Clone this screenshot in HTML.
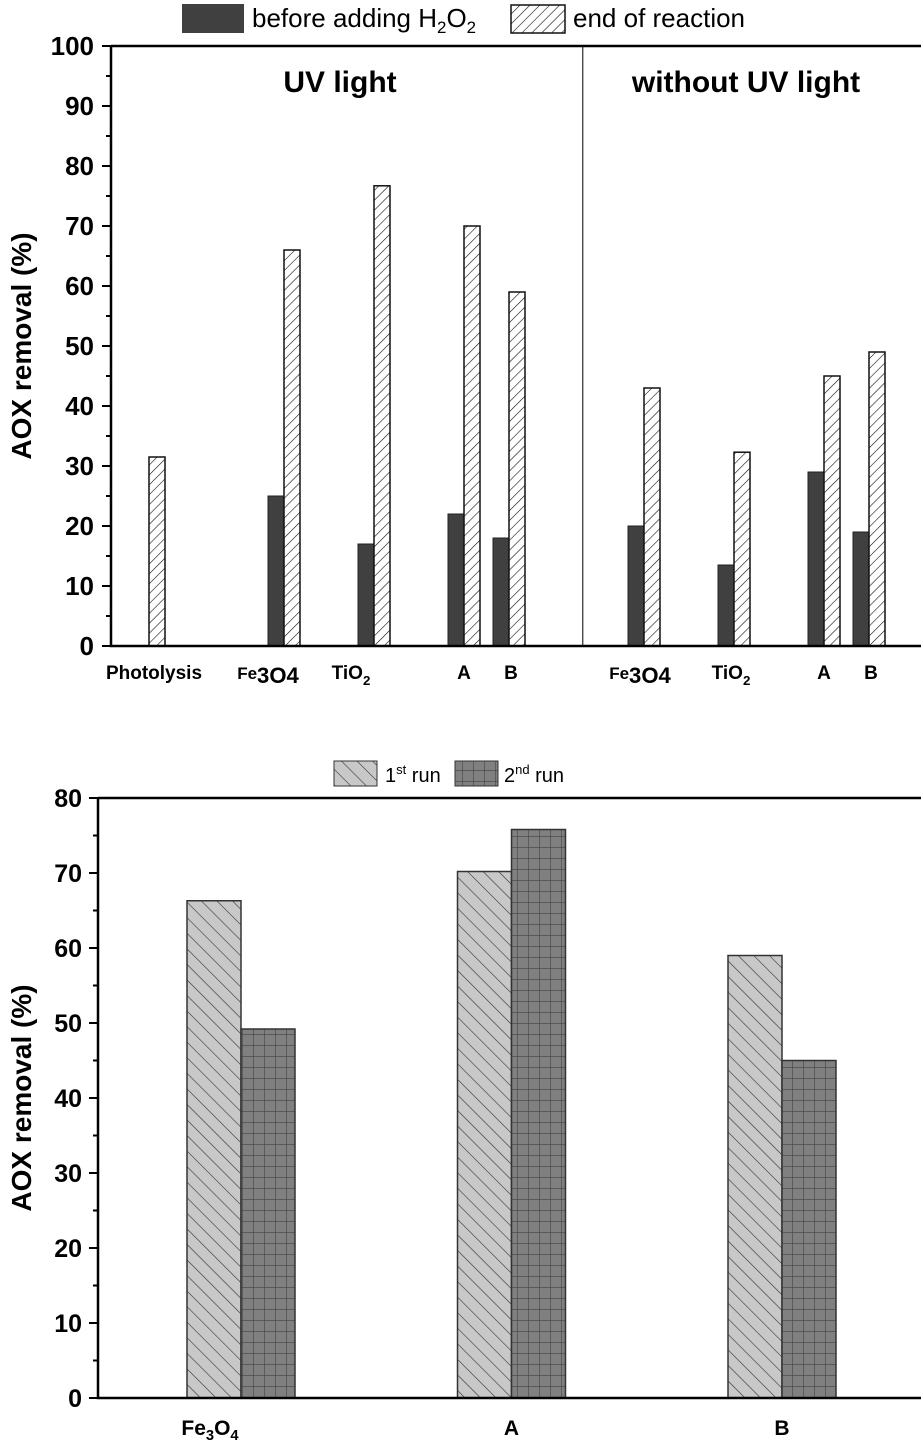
<!DOCTYPE html>
<html><head><meta charset="utf-8"><style>
body{margin:0;background:#fff}
svg{display:block;font-family:"Liberation Sans",Arial,sans-serif}
</style></head><body>
<svg width="922" height="1445" viewBox="0 0 922 1445">
<defs>
<pattern id="hatchA" patternUnits="userSpaceOnUse" width="7" height="7" patternTransform="rotate(45)">
<rect width="7" height="7" fill="#fff"/><line x1="0" y1="0" x2="0" y2="7" stroke="#111" stroke-width="1.2"/></pattern>
<pattern id="hatchB" patternUnits="userSpaceOnUse" width="11" height="11" patternTransform="rotate(-45)">
<rect width="11" height="11" fill="#c8c8c8"/><line x1="0" y1="0" x2="0" y2="11" stroke="#333" stroke-width="1.2"/></pattern>
<pattern id="gridC" patternUnits="userSpaceOnUse" width="11" height="11">
<rect width="11" height="11" fill="#808080"/><path d="M0 0H11M0 0V11" stroke="#444" stroke-width="1.2" fill="none"/></pattern>
</defs>
<g id="top"></g>
<g id="bot"></g>
</svg>
<script>
// ---- top chart data
const topSlots = [0,3,5,7,8,11,13,15,16];
const topLabels = ["Photolysis","Fe3O4","TiO2","A","B","Fe3O4","TiO2","A","B"];
const beforeVals = [null,25,17,22,18,20,13.5,29,19];
const endVals = [31.5,66,76.7,70,59,43,32.3,45,49];
const topTicks = [0,10,20,30,40,50,60,70,80,90,100];
// ---- bottom chart data
const botCats = ["Fe3O4","A","B"];
const run1 = [66.3,70.2,59];
const run2 = [49.2,75.8,45];
const botTicks = [0,10,20,30,40,50,60,70,80];

const NS="http://www.w3.org/2000/svg";
function mk(parent,tag,attrs,text){const e=document.createElementNS(NS,tag);for(const k in attrs)e.setAttribute(k,attrs[k]);if(text!==undefined)e.textContent=text;parent.appendChild(e);return e;}
function chem(t,label){
  if(label==="Fe3O4"){t.innerHTML='Fe<tspan font-size="1.3em" dy="4">3</tspan><tspan font-size="1.3em">O</tspan><tspan font-size="1.3em">4</tspan>';}
  else if(label==="TiO2"){t.innerHTML='TiO<tspan font-size="0.7em" dy="6">2</tspan>';}
  else t.textContent=label;
}
const labelShift = {Photolysis:5, Fe3O4:-16, TiO2:-23, A:0, B:2};

// ===== TOP =====
const T=document.getElementById('top');
const tL=111,tR=921,tT=46,tB=646;
const ty=v=>tB-(v/100)*(tB-tT);
const tx=s=>149+45*s;
const bw=16;
topSlots.forEach((s,i)=>{
  if(beforeVals[i]!==null){
    const r=mk(T,'rect',{x:tx(s)-bw,y:ty(beforeVals[i]),width:bw,height:tB-ty(beforeVals[i]),fill:'#404040',stroke:'#222','stroke-width':1});
    
    
  }
  const h=mk(T,'rect',{x:tx(s),y:ty(endVals[i]),width:bw,height:tB-ty(endVals[i]),fill:'url(#hatchA)',stroke:'#111','stroke-width':1.5});
  
  
  let cx=tx(s)+labelShift[topLabels[i]];
  if(topLabels[i]==="TiO2") cx=tx(s)-23+(i===6?20:0);
  if(topLabels[i]==="Fe3O4") cx=tx(s)-16+(i===5?12:0);
  const lbl=mk(T,'text',{x:cx,y:679,'text-anchor':'middle','font-size':topLabels[i]==="Fe3O4"?17:19,'font-weight':'bold'});
  chem(lbl,topLabels[i]);
  
  
});
mk(T,'path',{d:`M${tL} ${tT}H${tR}M${tL} ${tT}V${tB}H${tR}`,stroke:'#000','stroke-width':2.5,fill:'none',});
mk(T,'line',{x1:tx(9.64),x2:tx(9.64),y1:tT,y2:tB,stroke:'#000','stroke-width':1,});
topTicks.forEach(v=>{
  mk(T,'line',{x1:tL-9,x2:tL,y1:ty(v),y2:ty(v),stroke:'#000','stroke-width':2});
  if(v<100)mk(T,'line',{x1:tL-5,x2:tL,y1:ty(v+5),y2:ty(v+5),stroke:'#000','stroke-width':2});
  const t=mk(T,'text',{x:tL-17,y:ty(v)+9,'text-anchor':'end','font-size':26,'font-weight':'bold'},String(v));
  
  
});
mk(T,'text',{x:340,y:92,'text-anchor':'middle','font-size':30,'font-weight':'bold',},'UV light');
mk(T,'text',{x:746,y:92,'text-anchor':'middle','font-size':30,'font-weight':'bold',},'without UV light');
mk(T,'text',{transform:'translate(31 346) rotate(-90)','text-anchor':'middle','font-size':28,'font-weight':'bold',},'AOX removal (%)');
mk(T,'rect',{x:182,y:4,width:62,height:29,fill:'#404040',});
mk(T,'text',{x:252,y:27,'font-size':26,}).innerHTML='before adding H<tspan font-size="0.65em" dy="6">2</tspan><tspan dy="-6">O</tspan><tspan font-size="0.65em" dy="6">2</tspan>';
mk(T,'rect',{x:511,y:5,width:54,height:28,fill:'url(#hatchA)',stroke:'#111','stroke-width':1.5,});
mk(T,'text',{x:573,y:27,'font-size':26,},'end of reaction');

// ===== BOTTOM =====
const B=document.getElementById('bot');
const bL=98,bR=921,bT=798,bBt=1398;
const by=v=>bBt-(v/80)*(bBt-bT);
const bx=i=>241+270.5*i;
const bw2=54;
botCats.forEach((c,i)=>{
  const a=mk(B,'rect',{x:bx(i)-bw2,y:by(run1[i]),width:bw2,height:bBt-by(run1[i]),fill:'url(#hatchB)',stroke:'#333','stroke-width':1.5});
  
  
  const b=mk(B,'rect',{x:bx(i),y:by(run2[i]),width:bw2,height:bBt-by(run2[i]),fill:'url(#gridC)',stroke:'#333','stroke-width':1.5});
  
  
  const t=mk(B,'text',{x:bx(i)-(i===0?31:0),y:1435,'text-anchor':'middle','font-size':21,'font-weight':'bold'});
  if(c==="Fe3O4")t.innerHTML='Fe<tspan font-size="0.7em" dy="5">3</tspan><tspan dy="-5">O</tspan><tspan font-size="0.7em" dy="5">4</tspan>';else t.textContent=c;
  
  
});
mk(B,'path',{d:`M${bL} ${bT}H${bR}M${bL} ${bT}V${bBt}H${bR}`,stroke:'#000','stroke-width':2.5,fill:'none',});
botTicks.forEach(v=>{
  mk(B,'line',{x1:bL-9,x2:bL,y1:by(v),y2:by(v),stroke:'#000','stroke-width':2});
  if(v<80)mk(B,'line',{x1:bL-5,x2:bL,y1:by(v+5),y2:by(v+5),stroke:'#000','stroke-width':2});
  const t=mk(B,'text',{x:bL-16,y:by(v)+9,'text-anchor':'end','font-size':25,'font-weight':'bold'},String(v));
  
  
});
mk(B,'text',{transform:'translate(31 1098) rotate(-90)','text-anchor':'middle','font-size':28,'font-weight':'bold',},'AOX removal (%)');
mk(B,'rect',{x:334,y:761,width:43,height:25,fill:'url(#hatchB)',stroke:'#333','stroke-width':1,});
mk(B,'text',{x:385,y:782,'font-size':20,}).innerHTML='1<tspan font-size="0.65em" dy="-8">st</tspan><tspan dy="8"> run</tspan>';
mk(B,'rect',{x:455,y:761,width:43,height:25,fill:'url(#gridC)',stroke:'#333','stroke-width':1,});
mk(B,'text',{x:504,y:782,'font-size':20,}).innerHTML='2<tspan font-size="0.65em" dy="-8">nd</tspan><tspan dy="8"> run</tspan>';
</script>
</body></html>
